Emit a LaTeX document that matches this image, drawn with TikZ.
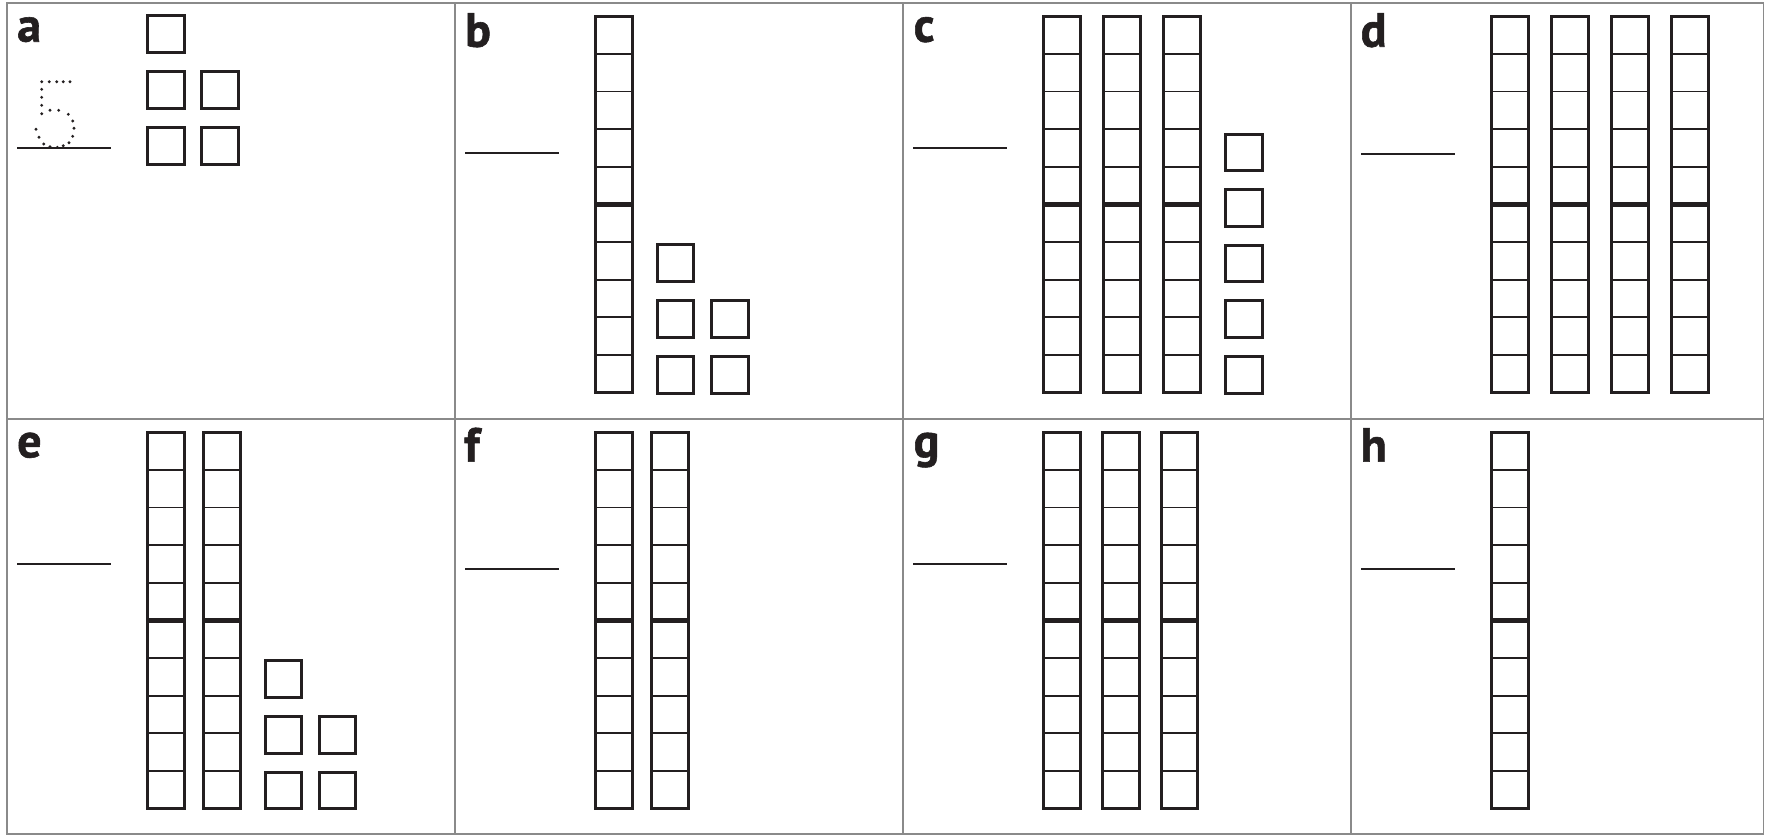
\documentclass[tikz,border=0pt]{standalone}
\usepackage{fontspec}
\newfontfamily\lblfont{PT Sans}[BoldFeatures={FakeBold=1.2}]
\definecolor{ink}{HTML}{231F20}
\definecolor{gridgray}{HTML}{8A8A8A}
\tikzset{
  gridline/.style={draw=gridgray, line width=1.6pt},
  barline/.style={draw=ink, line width=3pt},
  cellline/.style={draw=ink, line width=1.8pt},
  tenline/.style={draw=ink, line width=4.5pt},
  unitbox/.style={draw=ink, line width=3pt},
  answerline/.style={draw=ink, line width=2.2pt},
  panellabel/.style={anchor=base west, inner sep=0pt, text=ink, font=\lblfont\bfseries\fontsize{48}{48}\selectfont},
  tracedot/.style={fill=ink, draw=none}
}
\newcommand\tenbar[2]{%
  \draw[barline] ({#1+1.5},{#2+1.5}) rectangle ({#1+38},{#2+377.8});
  \foreach \k in {1,2,3,4,6,7,8,9}{%
    \draw[cellline] ({#1+1.5},{#2+1.5+\k*37.63}) -- ({#1+38},{#2+1.5+\k*37.63});
  }%
  \draw[tenline] ({#1+1.5},{#2+1.5+5*37.63}) -- ({#1+38},{#2+1.5+5*37.63});
}
\newcommand\unitsq[2]{%
  \draw[unitbox] ({#1+1.5},{#2+1.5}) rectangle ({#1+38},{#2+38});
}
\begin{document}
\begin{tikzpicture}[x=1pt,y=-1pt]
\useasboundingbox (0,0) rectangle (1767,835);
\fill[white] (0,0) rectangle (1767,835);
% grid
\draw[gridline] (7,3) rectangle (1763.3,834);
\draw[gridline] (455,3) -- (455,834);
\draw[gridline] (902.7,3) -- (902.7,834);
\draw[gridline] (1351,3) -- (1351,834);
\draw[gridline] (7,419) -- (1763.3,419);
% labels
\node[panellabel] (la) at (17,41.7) {a};
\node[panellabel] (lb) at (465,46.7) {b};
\node[panellabel] (lc) at (913.5,41.7) {c};
\node[panellabel] (ld) at (1360.5,46.7) {d};
\node[panellabel] (le) at (17,457.3) {e};
\node[panellabel] (lf) at (464,461.7) {f};
\node[panellabel] (lg) at (913.5,457.3) {g};
\node[panellabel] (lh) at (1360.5,461.7) {h};
% answer lines
\draw[answerline] (17,148.3) -- (111,148.3);
\draw[answerline] (465.3,153.3) -- (559,153.3);
\draw[answerline] (913.3,148.3) -- (1007,148.3);
\draw[answerline] (1361.3,153.7) -- (1455,153.7);
\draw[answerline] (17.3,563.7) -- (111,563.7);
\draw[answerline] (465.3,569.3) -- (559,569.3);
\draw[answerline] (913.3,564) -- (1007,564);
\draw[answerline] (1361.3,569.3) -- (1455,569.3);
% dotted 5
\foreach \p in {(41.7,81.7),(49.3,81.7),(56.7,81.7),(63.3,81.7),(70,81.7),
  (41.7,89.3),(41.7,97.3),(41.7,105.3),(41.7,113.7),
  (50,110.3),(58.7,110.3),(68.3,114.3),(72.7,121),(74,128.3),(72.7,136.3),
  (69,142.7),(63.3,145.7),(57.3,147.3),(50,146.7),(43.7,144),(39,137.3),(36,129.3)}
  \fill[tracedot] \p circle (1.6);
% a: units
\unitsq{146}{14.3}
\unitsq{146}{70.3}\unitsq{200}{70.3}
\unitsq{146}{126}\unitsq{200}{126}
% b
\tenbar{594}{14.7}
\unitsq{655.7}{243}
\unitsq{655.7}{299}\unitsq{710}{299}
\unitsq{655.7}{355}\unitsq{710}{355}
% c
\tenbar{1042.3}{14.7}\tenbar{1102.3}{14.7}\tenbar{1162.3}{14.7}
\unitsq{1224.3}{132.7}
\unitsq{1224.3}{188.3}
\unitsq{1224.3}{243.8}
\unitsq{1224.3}{299.4}
\unitsq{1224.3}{355}
% d
\tenbar{1490.3}{14.7}\tenbar{1550}{14.7}\tenbar{1610}{14.7}\tenbar{1670.3}{14.7}
% e
\tenbar{146}{430.7}\tenbar{202}{430.7}
\unitsq{263.7}{659}
\unitsq{263.7}{715}\unitsq{317.7}{715}
\unitsq{263.7}{770.7}\unitsq{317.7}{770.7}
% f
\tenbar{594}{430.7}\tenbar{650}{430.7}
% g
\tenbar{1042.3}{430.7}\tenbar{1101}{430.7}\tenbar{1159.7}{430.7}
% h
\tenbar{1490.3}{430.7}
\end{tikzpicture}
\end{document}
